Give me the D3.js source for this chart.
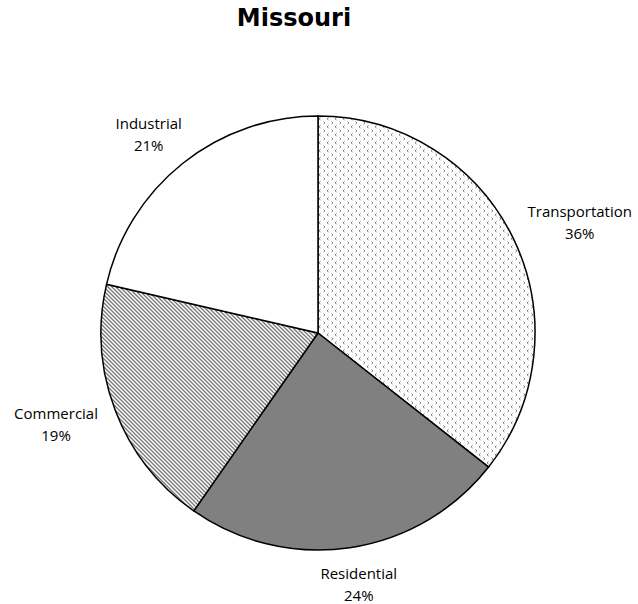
<!DOCTYPE html>
<html>
<head>
<meta charset="utf-8">
<title>Missouri</title>
<script src="https://d3js.org/d3.v7.min.js"></script>
<style>
  body { margin: 0; background: #fff; }
  text { font-family: "Open Sans", "DejaVu Sans", sans-serif; fill: #000; }
</style>
</head>
<body>
<div id="chart"></div>
<script>
// data
var sectors = ["Transportation", "Residential", "Commercial", "Industrial"];
var shares = [35.6, 24.1, 18.9, 21.4];
var shareLabels = ["36%", "24%", "19%", "21%"];
var fills = ["url(#dots)", "#808080", "url(#hatch)", "#ffffff"];

var w = 638, h = 604;
var cx = 318, cy = 333, r = 217;

var svg = d3.select("#chart").append("svg")
  .attr("width", w)
  .attr("height", h);

var defs = svg.append("defs");

// small dotted chevron pattern
var dots = defs.append("pattern")
  .attr("id", "dots")
  .attr("patternUnits", "userSpaceOnUse")
  .attr("width", 8).attr("height", 8);
dots.append("rect").attr("width", 8).attr("height", 8).attr("fill", "#fff");
dots.append("path")
  .attr("d", "M2.5,0.5 L1,1.75 L2.5,3 M5.5,4.5 L7,5.75 L5.5,7")
  .attr("fill", "none")
  .attr("stroke", "#777")
  .attr("stroke-width", 1);

// diagonal hatch
var hatch = defs.append("pattern")
  .attr("id", "hatch")
  .attr("patternUnits", "userSpaceOnUse")
  .attr("width", 4).attr("height", 4);
hatch.append("rect").attr("width", 4).attr("height", 4).attr("fill", "#fff");
hatch.append("path")
  .attr("d", "M-1,-1 L5,5 M-1,3 L1,5 M3,-1 L5,1")
  .attr("stroke", "#777")
  .attr("stroke-width", 1.3);

svg.append("text")
  .attr("x", 294)
  .attr("y", 26)
  .attr("text-anchor", "middle")
  .style("font-family", "'DejaVu Sans', sans-serif")
  .style("font-size", "24px")
  .style("font-weight", "bold")
  .text("Missouri");

var pie = d3.pie().sort(null).value(function(d) { return d; });
var arcs = pie(shares);
var arc = d3.arc().innerRadius(0).outerRadius(r);

var g = svg.append("g").attr("transform", "translate(" + cx + "," + cy + ")");

g.selectAll("path")
  .data(arcs)
  .enter()
  .append("path")
  .attr("d", arc)
  .attr("fill", function(d, i) { return fills[i]; })
  .attr("stroke", "#000")
  .attr("stroke-width", 1.5)
  .attr("stroke-linejoin", "round");

// labels outside the pie
var lineH = 22, fs = 15;
arcs.forEach(function(d, i) {
  var a = (d.startAngle + d.endAngle) / 2;
  var s = Math.sin(a), c = Math.cos(a);
  var px = (r + 7) * s, py = -(r + 10) * c;
  var lbl = g.append("text")
    .attr("text-anchor", "middle")
    .style("font-size", fs + "px");
  lbl.append("tspan").text(sectors[i]);
  lbl.append("tspan").text(shareLabels[i]);
  var bw = lbl.node().getBBox().width;
  var bx = px + s * bw / 2;
  var by = py - c * (lineH + 5);
  lbl.selectAll("tspan")
    .attr("x", bx)
    .attr("y", function(t, j) { return by - lineH / 2 + 6 + j * lineH; });
});
</script>
</body>
</html>
